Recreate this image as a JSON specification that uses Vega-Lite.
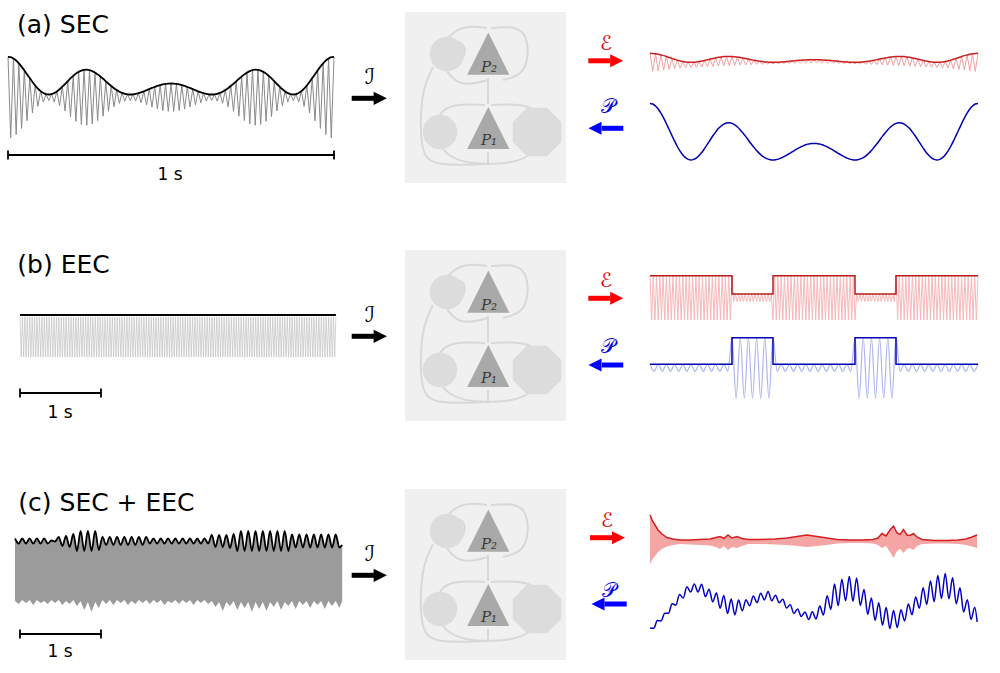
{
"$schema":"https://vega.github.io/schema/vega-lite/v6.json",
"width":1000,"height":673,"padding":0,
"autosize":{"type":"fit","contains":"padding"},
"background":"#ffffff",
"config":{"view":{"stroke":null},"axis":{"disable":true},"legend":{"disable":true},"text":{"font":"DejaVu Sans"}},
"data":{"values":[{}]},
"datasets":{
"rowA":[{"t":0,"a":40.7,"s":40.7,"e":9,"o":9,"p":56.6},{"t":0.0083,"a":40.3,"s":-40.3,"e":8.9,"o":-9.1,"p":56},{"t":0.0167,"a":39,"s":39,"e":8.6,"o":8.6,"p":54},{"t":0.025,"a":37,"s":-37,"e":8.1,"o":-8.4,"p":51},{"t":0.0333,"a":34.2,"s":34.2,"e":7.4,"o":7.4,"p":46.8},{"t":0.0417,"a":30.9,"s":-30.9,"e":6.7,"o":-7.8,"p":41.9},{"t":0.05,"a":27.2,"s":27.2,"e":5.8,"o":5.8,"p":36.3},{"t":0.0583,"a":23.3,"s":-23.3,"e":4.8,"o":-7.1,"p":30.5},{"t":0.0667,"a":19.4,"s":19.4,"e":3.9,"o":3.9,"p":24.6},{"t":0.075,"a":15.5,"s":-15.5,"e":3,"o":-6.4,"p":18.8},{"t":0.0833,"a":12,"s":12,"e":2.1,"o":2.1,"p":13.5},{"t":0.0917,"a":8.9,"s":-8.9,"e":1.4,"o":-5.7,"p":8.9},{"t":0.1,"a":6.4,"s":6.4,"e":0.8,"o":0.8,"p":5.1},{"t":0.1083,"a":4.5,"s":-4.5,"e":0.4,"o":-5.4,"p":2.3},{"t":0.1167,"a":3.4,"s":3.4,"e":0.1,"o":0.1,"p":0.6},{"t":0.125,"a":3,"s":-3,"e":0,"o":-5.1,"p":0},{"t":0.1333,"a":3.4,"s":3.4,"e":0.1,"o":0.1,"p":0.6},{"t":0.1417,"a":4.4,"s":-4.4,"e":0.3,"o":-4.9,"p":2.1},{"t":0.15,"a":6.1,"s":6.1,"e":0.7,"o":0.7,"p":4.7},{"t":0.1583,"a":8.2,"s":-8.2,"e":1.2,"o":-4.6,"p":7.8},{"t":0.1667,"a":10.8,"s":10.8,"e":1.9,"o":1.9,"p":11.7},{"t":0.175,"a":13.5,"s":-13.5,"e":2.5,"o":-4.4,"p":15.8},{"t":0.1833,"a":16.3,"s":16.3,"e":3.2,"o":3.2,"p":20},{"t":0.1917,"a":19.1,"s":-19.1,"e":3.8,"o":-4.1,"p":24.2},{"t":0.2,"a":21.6,"s":21.6,"e":4.4,"o":4.4,"p":27.9},{"t":0.2083,"a":23.9,"s":-23.9,"e":5,"o":-3.9,"p":31.4},{"t":0.2167,"a":25.6,"s":25.6,"e":5.4,"o":5.4,"p":33.9},{"t":0.225,"a":26.9,"s":-26.9,"e":5.7,"o":-3.6,"p":35.9},{"t":0.2333,"a":27.6,"s":27.6,"e":5.9,"o":5.9,"p":36.9},{"t":0.2417,"a":27.8,"s":-27.8,"e":5.9,"o":-3.4,"p":37.2},{"t":0.25,"a":27.4,"s":27.4,"e":5.8,"o":5.8,"p":36.6},{"t":0.2583,"a":26.4,"s":-26.4,"e":5.6,"o":-3.1,"p":35.1},{"t":0.2667,"a":25,"s":25,"e":5.3,"o":5.3,"p":33},{"t":0.275,"a":23.1,"s":-23.1,"e":4.8,"o":-2.9,"p":30.2},{"t":0.2833,"a":21,"s":21,"e":4.3,"o":4.3,"p":27},{"t":0.2917,"a":18.7,"s":-18.7,"e":3.7,"o":-2.6,"p":23.6},{"t":0.3,"a":16.2,"s":16.2,"e":3.2,"o":3.2,"p":19.8},{"t":0.3083,"a":13.8,"s":-13.8,"e":2.6,"o":-2.4,"p":16.2},{"t":0.3167,"a":11.5,"s":11.5,"e":2,"o":2,"p":12.8},{"t":0.325,"a":9.3,"s":-9.3,"e":1.5,"o":-2.2,"p":9.5},{"t":0.3333,"a":7.4,"s":7.4,"e":1.1,"o":1.1,"p":6.6},{"t":0.3417,"a":5.8,"s":-5.8,"e":0.7,"o":-2,"p":4.2},{"t":0.35,"a":4.6,"s":4.6,"e":0.4,"o":0.4,"p":2.4},{"t":0.3583,"a":3.7,"s":-3.7,"e":0.2,"o":-1.7,"p":1.1},{"t":0.3667,"a":3.2,"s":3.2,"e":0,"o":0,"p":0.3},{"t":0.375,"a":3,"s":-3,"e":0,"o":-1.5,"p":0},{"t":0.3833,"a":3.2,"s":3.2,"e":0,"o":0,"p":0.3},{"t":0.3917,"a":3.6,"s":-3.6,"e":0.1,"o":-1.3,"p":0.9},{"t":0.4,"a":4.3,"s":4.3,"e":0.3,"o":0.3,"p":2},{"t":0.4083,"a":5.2,"s":-5.2,"e":0.5,"o":-1.2,"p":3.3},{"t":0.4167,"a":6.2,"s":6.2,"e":0.8,"o":0.8,"p":4.8},{"t":0.425,"a":7.3,"s":-7.3,"e":1,"o":-1.1,"p":6.5},{"t":0.4333,"a":8.4,"s":8.4,"e":1.3,"o":1.3,"p":8.1},{"t":0.4417,"a":9.6,"s":-9.6,"e":1.6,"o":-1,"p":9.9},{"t":0.45,"a":10.6,"s":10.6,"e":1.8,"o":1.8,"p":11.4},{"t":0.4583,"a":11.6,"s":-11.6,"e":2.1,"o":-0.9,"p":12.9},{"t":0.4667,"a":12.4,"s":12.4,"e":2.2,"o":2.2,"p":14.1},{"t":0.475,"a":13.1,"s":-13.1,"e":2.4,"o":-0.9,"p":15.2},{"t":0.4833,"a":13.6,"s":13.6,"e":2.5,"o":2.5,"p":15.9},{"t":0.4917,"a":13.9,"s":-13.9,"e":2.6,"o":-0.8,"p":16.4},{"t":0.5,"a":14,"s":14,"e":2.6,"o":2.6,"p":16.5},{"t":0.5083,"a":13.9,"s":-13.9,"e":2.6,"o":-0.8,"p":16.4},{"t":0.5167,"a":13.6,"s":13.6,"e":2.5,"o":2.5,"p":15.9},{"t":0.525,"a":13.1,"s":-13.1,"e":2.4,"o":-0.9,"p":15.2},{"t":0.5333,"a":12.4,"s":12.4,"e":2.2,"o":2.2,"p":14.1},{"t":0.5417,"a":11.6,"s":-11.6,"e":2.1,"o":-0.9,"p":12.9},{"t":0.55,"a":10.6,"s":10.6,"e":1.8,"o":1.8,"p":11.4},{"t":0.5583,"a":9.6,"s":-9.6,"e":1.6,"o":-1,"p":9.9},{"t":0.5667,"a":8.4,"s":8.4,"e":1.3,"o":1.3,"p":8.1},{"t":0.575,"a":7.3,"s":-7.3,"e":1,"o":-1.1,"p":6.5},{"t":0.5833,"a":6.2,"s":6.2,"e":0.8,"o":0.8,"p":4.8},{"t":0.5917,"a":5.2,"s":-5.2,"e":0.5,"o":-1.2,"p":3.3},{"t":0.6,"a":4.3,"s":4.3,"e":0.3,"o":0.3,"p":2},{"t":0.6083,"a":3.6,"s":-3.6,"e":0.1,"o":-1.3,"p":0.9},{"t":0.6167,"a":3.2,"s":3.2,"e":0,"o":0,"p":0.3},{"t":0.625,"a":3,"s":-3,"e":0,"o":-1.5,"p":0},{"t":0.6333,"a":3.2,"s":3.2,"e":0,"o":0,"p":0.3},{"t":0.6417,"a":3.7,"s":-3.7,"e":0.2,"o":-1.7,"p":1.1},{"t":0.65,"a":4.6,"s":4.6,"e":0.4,"o":0.4,"p":2.4},{"t":0.6583,"a":5.8,"s":-5.8,"e":0.7,"o":-2,"p":4.2},{"t":0.6667,"a":7.4,"s":7.4,"e":1.1,"o":1.1,"p":6.6},{"t":0.675,"a":9.3,"s":-9.3,"e":1.5,"o":-2.2,"p":9.5},{"t":0.6833,"a":11.5,"s":11.5,"e":2,"o":2,"p":12.8},{"t":0.6917,"a":13.8,"s":-13.8,"e":2.6,"o":-2.4,"p":16.2},{"t":0.7,"a":16.2,"s":16.2,"e":3.2,"o":3.2,"p":19.8},{"t":0.7083,"a":18.7,"s":-18.7,"e":3.7,"o":-2.6,"p":23.6},{"t":0.7167,"a":21,"s":21,"e":4.3,"o":4.3,"p":27},{"t":0.725,"a":23.1,"s":-23.1,"e":4.8,"o":-2.9,"p":30.2},{"t":0.7333,"a":25,"s":25,"e":5.3,"o":5.3,"p":33},{"t":0.7417,"a":26.4,"s":-26.4,"e":5.6,"o":-3.1,"p":35.1},{"t":0.75,"a":27.4,"s":27.4,"e":5.8,"o":5.8,"p":36.6},{"t":0.7583,"a":27.8,"s":-27.8,"e":5.9,"o":-3.4,"p":37.2},{"t":0.7667,"a":27.6,"s":27.6,"e":5.9,"o":5.9,"p":36.9},{"t":0.775,"a":26.9,"s":-26.9,"e":5.7,"o":-3.6,"p":35.9},{"t":0.7833,"a":25.6,"s":25.6,"e":5.4,"o":5.4,"p":33.9},{"t":0.7917,"a":23.9,"s":-23.9,"e":5,"o":-3.9,"p":31.4},{"t":0.8,"a":21.6,"s":21.6,"e":4.4,"o":4.4,"p":27.9},{"t":0.8083,"a":19.1,"s":-19.1,"e":3.8,"o":-4.1,"p":24.2},{"t":0.8167,"a":16.3,"s":16.3,"e":3.2,"o":3.2,"p":20},{"t":0.825,"a":13.5,"s":-13.5,"e":2.5,"o":-4.4,"p":15.8},{"t":0.8333,"a":10.8,"s":10.8,"e":1.9,"o":1.9,"p":11.7},{"t":0.8417,"a":8.2,"s":-8.2,"e":1.2,"o":-4.6,"p":7.8},{"t":0.85,"a":6.1,"s":6.1,"e":0.7,"o":0.7,"p":4.7},{"t":0.8583,"a":4.4,"s":-4.4,"e":0.3,"o":-4.9,"p":2.1},{"t":0.8667,"a":3.4,"s":3.4,"e":0.1,"o":0.1,"p":0.6},{"t":0.875,"a":3,"s":-3,"e":0,"o":-5.1,"p":0},{"t":0.8833,"a":3.4,"s":3.4,"e":0.1,"o":0.1,"p":0.6},{"t":0.8917,"a":4.5,"s":-4.5,"e":0.4,"o":-5.4,"p":2.3},{"t":0.9,"a":6.4,"s":6.4,"e":0.8,"o":0.8,"p":5.1},{"t":0.9083,"a":8.9,"s":-8.9,"e":1.4,"o":-5.7,"p":8.9},{"t":0.9167,"a":12,"s":12,"e":2.1,"o":2.1,"p":13.5},{"t":0.925,"a":15.5,"s":-15.5,"e":3,"o":-6.4,"p":18.8},{"t":0.9333,"a":19.4,"s":19.4,"e":3.9,"o":3.9,"p":24.6},{"t":0.9417,"a":23.3,"s":-23.3,"e":4.8,"o":-7.1,"p":30.5},{"t":0.95,"a":27.2,"s":27.2,"e":5.8,"o":5.8,"p":36.3},{"t":0.9583,"a":30.9,"s":-30.9,"e":6.7,"o":-7.8,"p":41.9},{"t":0.9667,"a":34.2,"s":34.2,"e":7.4,"o":7.4,"p":46.8},{"t":0.975,"a":37,"s":-37,"e":8.1,"o":-8.4,"p":51},{"t":0.9833,"a":39,"s":39,"e":8.6,"o":8.6,"p":54},{"t":0.9917,"a":40.3,"s":-40.3,"e":8.9,"o":-9.1,"p":56},{"t":1,"a":40.7,"s":40.7,"e":9,"o":9,"p":56.6}],
"rowBL":[{"t":0,"v":20},{"t":0.015,"v":-20},{"t":0.03,"v":20},{"t":0.045,"v":-20},{"t":0.06,"v":20},{"t":0.075,"v":-20},{"t":0.09,"v":20},{"t":0.105,"v":-20},{"t":0.12,"v":20},{"t":0.135,"v":-20},{"t":0.15,"v":20},{"t":0.165,"v":-20},{"t":0.18,"v":20},{"t":0.195,"v":-20},{"t":0.21,"v":20},{"t":0.225,"v":-20},{"t":0.24,"v":20},{"t":0.255,"v":-20},{"t":0.27,"v":20},{"t":0.285,"v":-20},{"t":0.3,"v":20},{"t":0.315,"v":-20},{"t":0.33,"v":20},{"t":0.345,"v":-20},{"t":0.36,"v":20},{"t":0.375,"v":-20},{"t":0.39,"v":20},{"t":0.405,"v":-20},{"t":0.42,"v":20},{"t":0.435,"v":-20},{"t":0.45,"v":20},{"t":0.465,"v":-20},{"t":0.48,"v":20},{"t":0.495,"v":-20},{"t":0.51,"v":20},{"t":0.525,"v":-20},{"t":0.54,"v":20},{"t":0.555,"v":-20},{"t":0.57,"v":20},{"t":0.585,"v":-20},{"t":0.6,"v":20},{"t":0.615,"v":-20},{"t":0.63,"v":20},{"t":0.645,"v":-20},{"t":0.66,"v":20},{"t":0.675,"v":-20},{"t":0.69,"v":20},{"t":0.705,"v":-20},{"t":0.72,"v":20},{"t":0.735,"v":-20},{"t":0.75,"v":20},{"t":0.765,"v":-20},{"t":0.78,"v":20},{"t":0.795,"v":-20},{"t":0.81,"v":20},{"t":0.825,"v":-20},{"t":0.84,"v":20},{"t":0.855,"v":-20},{"t":0.87,"v":20},{"t":0.885,"v":-20},{"t":0.9,"v":20},{"t":0.915,"v":-20},{"t":0.93,"v":20},{"t":0.945,"v":-20},{"t":0.96,"v":20},{"t":0.975,"v":-20},{"t":0.99,"v":20},{"t":1.005,"v":-20},{"t":1.02,"v":20},{"t":1.035,"v":-20},{"t":1.05,"v":20},{"t":1.065,"v":-20},{"t":1.08,"v":20},{"t":1.095,"v":-20},{"t":1.11,"v":20},{"t":1.125,"v":-20},{"t":1.14,"v":20},{"t":1.155,"v":-20},{"t":1.17,"v":20},{"t":1.185,"v":-20},{"t":1.2,"v":20},{"t":1.215,"v":-20},{"t":1.23,"v":20},{"t":1.245,"v":-20},{"t":1.26,"v":20},{"t":1.275,"v":-20},{"t":1.29,"v":20},{"t":1.305,"v":-20},{"t":1.32,"v":20},{"t":1.335,"v":-20},{"t":1.35,"v":20},{"t":1.365,"v":-20},{"t":1.38,"v":20},{"t":1.395,"v":-20},{"t":1.41,"v":20},{"t":1.425,"v":-20},{"t":1.44,"v":20},{"t":1.455,"v":-20},{"t":1.47,"v":20},{"t":1.485,"v":-20},{"t":1.5,"v":20},{"t":1.515,"v":-20},{"t":1.53,"v":20},{"t":1.545,"v":-20},{"t":1.56,"v":20},{"t":1.575,"v":-20},{"t":1.59,"v":20},{"t":1.605,"v":-20},{"t":1.62,"v":20},{"t":1.635,"v":-20},{"t":1.65,"v":20},{"t":1.665,"v":-20},{"t":1.68,"v":20},{"t":1.695,"v":-20},{"t":1.71,"v":20},{"t":1.725,"v":-20},{"t":1.74,"v":20},{"t":1.755,"v":-20},{"t":1.77,"v":20},{"t":1.785,"v":-20},{"t":1.8,"v":20},{"t":1.815,"v":-20},{"t":1.83,"v":20},{"t":1.845,"v":-20},{"t":1.86,"v":20},{"t":1.875,"v":-20},{"t":1.89,"v":20},{"t":1.905,"v":-20},{"t":1.92,"v":20},{"t":1.935,"v":-20},{"t":1.95,"v":20},{"t":1.965,"v":-20},{"t":1.98,"v":20},{"t":1.995,"v":-20},{"t":2.01,"v":20},{"t":2.025,"v":-20},{"t":2.04,"v":20},{"t":2.055,"v":-20},{"t":2.07,"v":20},{"t":2.085,"v":-20},{"t":2.1,"v":20},{"t":2.115,"v":-20},{"t":2.13,"v":20},{"t":2.145,"v":-20},{"t":2.16,"v":20},{"t":2.175,"v":-20},{"t":2.19,"v":20},{"t":2.205,"v":-20},{"t":2.22,"v":20},{"t":2.235,"v":-20},{"t":2.25,"v":20},{"t":2.265,"v":-20},{"t":2.28,"v":20},{"t":2.295,"v":-20},{"t":2.31,"v":20},{"t":2.325,"v":-20},{"t":2.34,"v":20},{"t":2.355,"v":-20},{"t":2.37,"v":20},{"t":2.385,"v":-20},{"t":2.4,"v":20},{"t":2.415,"v":-20},{"t":2.43,"v":20},{"t":2.445,"v":-20},{"t":2.46,"v":20},{"t":2.475,"v":-20},{"t":2.49,"v":20},{"t":2.505,"v":-20},{"t":2.52,"v":20},{"t":2.535,"v":-20},{"t":2.55,"v":20},{"t":2.565,"v":-20},{"t":2.58,"v":20},{"t":2.595,"v":-20},{"t":2.61,"v":20},{"t":2.625,"v":-20},{"t":2.64,"v":20},{"t":2.655,"v":-20},{"t":2.67,"v":20},{"t":2.685,"v":-20},{"t":2.7,"v":20},{"t":2.715,"v":-20},{"t":2.73,"v":20},{"t":2.745,"v":-20},{"t":2.76,"v":20},{"t":2.775,"v":-20},{"t":2.79,"v":20},{"t":2.805,"v":-20},{"t":2.82,"v":20},{"t":2.835,"v":-20},{"t":2.85,"v":20},{"t":2.865,"v":-20},{"t":2.88,"v":20},{"t":2.895,"v":-20},{"t":2.91,"v":20},{"t":2.925,"v":-20},{"t":2.94,"v":20},{"t":2.955,"v":-20},{"t":2.97,"v":20},{"t":2.985,"v":-20},{"t":3,"v":20},{"t":3.015,"v":-20},{"t":3.03,"v":20},{"t":3.045,"v":-20},{"t":3.06,"v":20},{"t":3.075,"v":-20},{"t":3.09,"v":20},{"t":3.105,"v":-20},{"t":3.12,"v":20},{"t":3.135,"v":-20},{"t":3.15,"v":20},{"t":3.165,"v":-20},{"t":3.18,"v":20},{"t":3.195,"v":-20},{"t":3.21,"v":20},{"t":3.225,"v":-20},{"t":3.24,"v":20},{"t":3.255,"v":-20},{"t":3.27,"v":20},{"t":3.285,"v":-20},{"t":3.3,"v":20},{"t":3.315,"v":-20},{"t":3.33,"v":20},{"t":3.345,"v":-20},{"t":3.36,"v":20},{"t":3.375,"v":-20},{"t":3.39,"v":20},{"t":3.405,"v":-20},{"t":3.42,"v":20},{"t":3.435,"v":-20},{"t":3.45,"v":20},{"t":3.465,"v":-20},{"t":3.48,"v":20},{"t":3.495,"v":-20},{"t":3.51,"v":20},{"t":3.525,"v":-20},{"t":3.54,"v":20},{"t":3.555,"v":-20},{"t":3.57,"v":20},{"t":3.585,"v":-20},{"t":3.6,"v":20},{"t":3.615,"v":-20},{"t":3.63,"v":20},{"t":3.645,"v":-20},{"t":3.66,"v":20},{"t":3.675,"v":-20},{"t":3.69,"v":20},{"t":3.705,"v":-20},{"t":3.72,"v":20},{"t":3.735,"v":-20},{"t":3.75,"v":20},{"t":3.765,"v":-20},{"t":3.78,"v":20},{"t":3.795,"v":-20},{"t":3.81,"v":20},{"t":3.825,"v":-20},{"t":3.84,"v":20},{"t":3.855,"v":-20},{"t":3.87,"v":20},{"t":3.885,"v":-20},{"t":3.9,"v":20}],
"rowBE":[{"t":0,"v":46.3},{"t":0.02,"v":2},{"t":0.04,"v":46.3},{"t":0.06,"v":2},{"t":0.08,"v":46.3},{"t":0.1,"v":2},{"t":0.12,"v":46.3},{"t":0.14,"v":2},{"t":0.16,"v":46.3},{"t":0.18,"v":2},{"t":0.2,"v":46.3},{"t":0.22,"v":2},{"t":0.24,"v":46.3},{"t":0.26,"v":2},{"t":0.28,"v":46.3},{"t":0.3,"v":2},{"t":0.32,"v":46.3},{"t":0.34,"v":2},{"t":0.36,"v":46.3},{"t":0.38,"v":2},{"t":0.4,"v":46.3},{"t":0.42,"v":2},{"t":0.44,"v":46.3},{"t":0.46,"v":2},{"t":0.48,"v":46.3},{"t":0.5,"v":2},{"t":0.52,"v":46.3},{"t":0.54,"v":2},{"t":0.56,"v":46.3},{"t":0.58,"v":2},{"t":0.6,"v":46.3},{"t":0.62,"v":2},{"t":0.64,"v":46.3},{"t":0.66,"v":2},{"t":0.68,"v":46.3},{"t":0.7,"v":2},{"t":0.72,"v":46.3},{"t":0.74,"v":2},{"t":0.76,"v":46.3},{"t":0.78,"v":2},{"t":0.8,"v":46.3},{"t":0.82,"v":2},{"t":0.84,"v":46.3},{"t":0.86,"v":2},{"t":0.88,"v":46.3},{"t":0.9,"v":2},{"t":0.92,"v":46.3},{"t":0.94,"v":2},{"t":0.96,"v":46.3},{"t":0.98,"v":2},{"t":1,"v":46.3},{"t":1.02,"v":20.5},{"t":1.04,"v":28},{"t":1.06,"v":20.5},{"t":1.08,"v":28},{"t":1.1,"v":20.5},{"t":1.12,"v":28},{"t":1.14,"v":20.5},{"t":1.16,"v":28},{"t":1.18,"v":20.5},{"t":1.2,"v":28},{"t":1.22,"v":20.5},{"t":1.24,"v":28},{"t":1.26,"v":20.5},{"t":1.28,"v":28},{"t":1.3,"v":20.5},{"t":1.32,"v":28},{"t":1.34,"v":20.5},{"t":1.36,"v":28},{"t":1.38,"v":20.5},{"t":1.4,"v":28},{"t":1.42,"v":20.5},{"t":1.44,"v":28},{"t":1.46,"v":20.5},{"t":1.48,"v":28},{"t":1.5,"v":2},{"t":1.52,"v":46.3},{"t":1.54,"v":2},{"t":1.56,"v":46.3},{"t":1.58,"v":2},{"t":1.6,"v":46.3},{"t":1.62,"v":2},{"t":1.64,"v":46.3},{"t":1.66,"v":2},{"t":1.68,"v":46.3},{"t":1.7,"v":2},{"t":1.72,"v":46.3},{"t":1.74,"v":2},{"t":1.76,"v":46.3},{"t":1.78,"v":2},{"t":1.8,"v":46.3},{"t":1.82,"v":2},{"t":1.84,"v":46.3},{"t":1.86,"v":2},{"t":1.88,"v":46.3},{"t":1.9,"v":2},{"t":1.92,"v":46.3},{"t":1.94,"v":2},{"t":1.96,"v":46.3},{"t":1.98,"v":2},{"t":2,"v":46.3},{"t":2.02,"v":2},{"t":2.04,"v":46.3},{"t":2.06,"v":2},{"t":2.08,"v":46.3},{"t":2.1,"v":2},{"t":2.12,"v":46.3},{"t":2.14,"v":2},{"t":2.16,"v":46.3},{"t":2.18,"v":2},{"t":2.2,"v":46.3},{"t":2.22,"v":2},{"t":2.24,"v":46.3},{"t":2.26,"v":2},{"t":2.28,"v":46.3},{"t":2.3,"v":2},{"t":2.32,"v":46.3},{"t":2.34,"v":2},{"t":2.36,"v":46.3},{"t":2.38,"v":2},{"t":2.4,"v":46.3},{"t":2.42,"v":2},{"t":2.44,"v":46.3},{"t":2.46,"v":2},{"t":2.48,"v":46.3},{"t":2.5,"v":2},{"t":2.52,"v":28},{"t":2.54,"v":20.5},{"t":2.56,"v":28},{"t":2.58,"v":20.5},{"t":2.6,"v":28},{"t":2.62,"v":20.5},{"t":2.64,"v":28},{"t":2.66,"v":20.5},{"t":2.68,"v":28},{"t":2.7,"v":20.5},{"t":2.72,"v":28},{"t":2.74,"v":20.5},{"t":2.76,"v":28},{"t":2.78,"v":20.5},{"t":2.8,"v":28},{"t":2.82,"v":20.5},{"t":2.84,"v":28},{"t":2.86,"v":20.5},{"t":2.88,"v":28},{"t":2.9,"v":20.5},{"t":2.92,"v":28},{"t":2.94,"v":20.5},{"t":2.96,"v":28},{"t":2.98,"v":20.5},{"t":3,"v":46.3},{"t":3.02,"v":2},{"t":3.04,"v":46.3},{"t":3.06,"v":2},{"t":3.08,"v":46.3},{"t":3.1,"v":2},{"t":3.12,"v":46.3},{"t":3.14,"v":2},{"t":3.16,"v":46.3},{"t":3.18,"v":2},{"t":3.2,"v":46.3},{"t":3.22,"v":2},{"t":3.24,"v":46.3},{"t":3.26,"v":2},{"t":3.28,"v":46.3},{"t":3.3,"v":2},{"t":3.32,"v":46.3},{"t":3.34,"v":2},{"t":3.36,"v":46.3},{"t":3.38,"v":2},{"t":3.4,"v":46.3},{"t":3.42,"v":2},{"t":3.44,"v":46.3},{"t":3.46,"v":2},{"t":3.48,"v":46.3},{"t":3.5,"v":2},{"t":3.52,"v":46.3},{"t":3.54,"v":2},{"t":3.56,"v":46.3},{"t":3.58,"v":2},{"t":3.6,"v":46.3},{"t":3.62,"v":2},{"t":3.64,"v":46.3},{"t":3.66,"v":2},{"t":3.68,"v":46.3},{"t":3.7,"v":2},{"t":3.72,"v":46.3},{"t":3.74,"v":2},{"t":3.76,"v":46.3},{"t":3.78,"v":2},{"t":3.8,"v":46.3},{"t":3.82,"v":2},{"t":3.84,"v":46.3},{"t":3.86,"v":2},{"t":3.88,"v":46.3},{"t":3.9,"v":2},{"t":3.92,"v":46.3},{"t":3.94,"v":2},{"t":3.96,"v":46.3},{"t":3.98,"v":2},{"t":4,"v":46.3}],
"stepBE":[{"t":0,"v":46.3},{"t":1,"v":28},{"t":1.5,"v":46.3},{"t":2.5,"v":28},{"t":3,"v":46.3},{"t":4,"v":46.3}],
"rowBP":[{"t":0,"v":0},{"t":0.05,"v":-7},{"t":0.1,"v":0},{"t":0.15,"v":-7},{"t":0.2,"v":0},{"t":0.25,"v":-7},{"t":0.3,"v":0},{"t":0.35,"v":-7},{"t":0.4,"v":0},{"t":0.45,"v":-7},{"t":0.5,"v":0},{"t":0.55,"v":-7},{"t":0.6,"v":0},{"t":0.65,"v":-7},{"t":0.7,"v":0},{"t":0.75,"v":-7},{"t":0.8,"v":0},{"t":0.85,"v":-7},{"t":0.9,"v":0},{"t":0.95,"v":-7},{"t":1,"v":26.6},{"t":1.05,"v":-34},{"t":1.1,"v":26.6},{"t":1.15,"v":-34},{"t":1.2,"v":26.6},{"t":1.25,"v":-34},{"t":1.3,"v":26.6},{"t":1.35,"v":-34},{"t":1.4,"v":26.6},{"t":1.45,"v":-34},{"t":1.5,"v":26.6},{"t":1.55,"v":-7},{"t":1.6,"v":0},{"t":1.65,"v":-7},{"t":1.7,"v":0},{"t":1.75,"v":-7},{"t":1.8,"v":0},{"t":1.85,"v":-7},{"t":1.9,"v":0},{"t":1.95,"v":-7},{"t":2,"v":0},{"t":2.05,"v":-7},{"t":2.1,"v":0},{"t":2.15,"v":-7},{"t":2.2,"v":0},{"t":2.25,"v":-7},{"t":2.3,"v":0},{"t":2.35,"v":-7},{"t":2.4,"v":0},{"t":2.45,"v":-7},{"t":2.5,"v":26.6},{"t":2.55,"v":-34},{"t":2.6,"v":26.6},{"t":2.65,"v":-34},{"t":2.7,"v":26.6},{"t":2.75,"v":-34},{"t":2.8,"v":26.6},{"t":2.85,"v":-34},{"t":2.9,"v":26.6},{"t":2.95,"v":-34},{"t":3,"v":26.6},{"t":3.05,"v":-7},{"t":3.1,"v":0},{"t":3.15,"v":-7},{"t":3.2,"v":0},{"t":3.25,"v":-7},{"t":3.3,"v":0},{"t":3.35,"v":-7},{"t":3.4,"v":0},{"t":3.45,"v":-7},{"t":3.5,"v":0},{"t":3.55,"v":-7},{"t":3.6,"v":0},{"t":3.65,"v":-7},{"t":3.7,"v":0},{"t":3.75,"v":-7},{"t":3.8,"v":0},{"t":3.85,"v":-7},{"t":3.9,"v":0},{"t":3.95,"v":-7},{"t":4,"v":0}],
"stepBP":[{"t":0,"v":0},{"t":1,"v":26.6},{"t":1.5,"v":0},{"t":2.5,"v":26.6},{"t":3,"v":0},{"t":4,"v":0}],
"rowCL":[{"t":0,"top":36.5,"bot":-26},{"t":0.045,"top":31.5,"bot":-29},{"t":0.09,"top":36.5,"bot":-25},{"t":0.135,"top":31.5,"bot":-28},{"t":0.18,"top":36.5,"bot":-25},{"t":0.225,"top":31.5,"bot":-30},{"t":0.27,"top":36.5,"bot":-25},{"t":0.315,"top":31.5,"bot":-28},{"t":0.36,"top":36.5,"bot":-26},{"t":0.405,"top":31.5,"bot":-29},{"t":0.45,"top":34.5,"bot":-25},{"t":0.495,"top":33.5,"bot":-28},{"t":0.54,"top":38,"bot":-25},{"t":0.585,"top":29,"bot":-30},{"t":0.63,"top":39,"bot":-26},{"t":0.675,"top":28,"bot":-29},{"t":0.72,"top":41,"bot":-25},{"t":0.765,"top":24,"bot":-31},{"t":0.81,"top":44,"bot":-26},{"t":0.855,"top":24,"bot":-35},{"t":0.9,"top":44,"bot":-27},{"t":0.945,"top":24,"bot":-37},{"t":0.99,"top":44,"bot":-27},{"t":1.035,"top":25,"bot":-33},{"t":1.08,"top":38,"bot":-25},{"t":1.125,"top":30,"bot":-29},{"t":1.17,"top":38,"bot":-25},{"t":1.215,"top":30,"bot":-30},{"t":1.26,"top":38,"bot":-25},{"t":1.305,"top":30,"bot":-28},{"t":1.35,"top":38,"bot":-25},{"t":1.395,"top":30,"bot":-30},{"t":1.44,"top":38,"bot":-26},{"t":1.485,"top":30,"bot":-29},{"t":1.53,"top":38,"bot":-25},{"t":1.575,"top":30,"bot":-28},{"t":1.62,"top":38,"bot":-25},{"t":1.665,"top":31.5,"bot":-29},{"t":1.71,"top":36.5,"bot":-25},{"t":1.755,"top":31.5,"bot":-28},{"t":1.8,"top":36.5,"bot":-25},{"t":1.845,"top":31.5,"bot":-30},{"t":1.89,"top":36.5,"bot":-26},{"t":1.935,"top":31.5,"bot":-28},{"t":1.98,"top":36.5,"bot":-25},{"t":2.025,"top":31.5,"bot":-29},{"t":2.07,"top":36.5,"bot":-25},{"t":2.115,"top":31.5,"bot":-28},{"t":2.16,"top":36.5,"bot":-25},{"t":2.205,"top":31.5,"bot":-30},{"t":2.25,"top":36.5,"bot":-25},{"t":2.295,"top":31.5,"bot":-28},{"t":2.34,"top":36.5,"bot":-25},{"t":2.385,"top":31.5,"bot":-29},{"t":2.43,"top":40,"bot":-26},{"t":2.475,"top":28,"bot":-32},{"t":2.52,"top":40,"bot":-27},{"t":2.565,"top":28,"bot":-36},{"t":2.61,"top":40,"bot":-27},{"t":2.655,"top":27,"bot":-31},{"t":2.7,"top":41,"bot":-26},{"t":2.745,"top":24,"bot":-35},{"t":2.79,"top":44,"bot":-27},{"t":2.835,"top":24,"bot":-33},{"t":2.88,"top":44,"bot":-27},{"t":2.925,"top":24,"bot":-37},{"t":2.97,"top":44,"bot":-27},{"t":3.015,"top":24,"bot":-34},{"t":3.06,"top":44,"bot":-27},{"t":3.105,"top":24,"bot":-36},{"t":3.15,"top":44,"bot":-27},{"t":3.195,"top":24,"bot":-32},{"t":3.24,"top":44,"bot":-26},{"t":3.285,"top":24,"bot":-35},{"t":3.33,"top":44,"bot":-27},{"t":3.375,"top":24,"bot":-31},{"t":3.42,"top":40.5,"bot":-26},{"t":3.465,"top":27.5,"bot":-34},{"t":3.51,"top":40.5,"bot":-26},{"t":3.555,"top":27.5,"bot":-30},{"t":3.6,"top":40.5,"bot":-26},{"t":3.645,"top":27.5,"bot":-33},{"t":3.69,"top":40.5,"bot":-26},{"t":3.735,"top":27.5,"bot":-30},{"t":3.78,"top":40.5,"bot":-26},{"t":3.825,"top":27.5,"bot":-34},{"t":3.87,"top":40.5,"bot":-26},{"t":3.915,"top":27.5,"bot":-31},{"t":3.96,"top":40.5,"bot":-26},{"t":4.005,"top":27.5,"bot":-33},{"t":4.04,"top":30,"bot":-26}],
"rowCE":[{"t":0,"e":26,"l":-23},{"t":0.006,"e":25,"l":-22},{"t":0.024,"e":21,"l":-19},{"t":0.061,"e":16,"l":-15},{"t":0.098,"e":11,"l":-11},{"t":0.146,"e":7,"l":-8},{"t":0.207,"e":3.5,"l":-5.5},{"t":0.28,"e":2,"l":-4},{"t":0.366,"e":1,"l":-3},{"t":0.488,"e":1,"l":-3.5},{"t":0.61,"e":1.5,"l":-4},{"t":0.732,"e":2,"l":-4.5},{"t":0.805,"e":3.5,"l":-6},{"t":0.854,"e":4.5,"l":-8},{"t":0.902,"e":2.5,"l":-5},{"t":0.951,"e":6,"l":-9},{"t":1,"e":3,"l":-6},{"t":1.061,"e":4.5,"l":-7},{"t":1.122,"e":2.5,"l":-5},{"t":1.195,"e":1.5,"l":-3},{"t":1.341,"e":1.5,"l":-3},{"t":1.524,"e":2,"l":-3.5},{"t":1.671,"e":3,"l":-4},{"t":1.793,"e":4.5,"l":-5},{"t":1.915,"e":6,"l":-6},{"t":2.037,"e":4.5,"l":-5},{"t":2.159,"e":3,"l":-4},{"t":2.28,"e":1.5,"l":-2.5},{"t":2.439,"e":1,"l":-2},{"t":2.598,"e":1,"l":-2},{"t":2.72,"e":1.5,"l":-2.5},{"t":2.78,"e":3,"l":-4},{"t":2.829,"e":7.5,"l":-7},{"t":2.878,"e":5,"l":-5},{"t":2.927,"e":11,"l":-11},{"t":2.97,"e":15,"l":-17},{"t":3.012,"e":8,"l":-10},{"t":3.049,"e":6.5,"l":-8},{"t":3.091,"e":11.5,"l":-12},{"t":3.134,"e":6,"l":-8},{"t":3.171,"e":5.5,"l":-7},{"t":3.213,"e":7.5,"l":-9},{"t":3.256,"e":4,"l":-5},{"t":3.317,"e":1.5,"l":-3},{"t":3.476,"e":0.5,"l":-2.5},{"t":3.622,"e":0.5,"l":-2.5},{"t":3.756,"e":1,"l":-3},{"t":3.854,"e":2,"l":-4},{"t":3.927,"e":4,"l":-5.5},{"t":3.988,"e":6,"l":-7}],
"rowCP":[{"t":0,"v":4},{"t":0.045,"v":3.7},{"t":0.09,"v":11.4},{"t":0.135,"v":11.1},{"t":0.18,"v":18.8},{"t":0.225,"v":18.8},{"t":0.27,"v":28.3},{"t":0.315,"v":26.8},{"t":0.36,"v":37.4},{"t":0.405,"v":33.9},{"t":0.45,"v":45.2},{"t":0.495,"v":40},{"t":0.54,"v":48},{"t":0.585,"v":40},{"t":0.63,"v":47.8},{"t":0.675,"v":35.3},{"t":0.72,"v":42.8},{"t":0.765,"v":30.2},{"t":0.81,"v":39},{"t":0.855,"v":23.8},{"t":0.9,"v":36.6},{"t":0.945,"v":18.5},{"t":0.99,"v":33},{"t":1.035,"v":17},{"t":1.08,"v":32},{"t":1.125,"v":21.2},{"t":1.17,"v":32.2},{"t":1.215,"v":26.2},{"t":1.26,"v":36.1},{"t":1.305,"v":29.4},{"t":1.35,"v":38.7},{"t":1.395,"v":32.1},{"t":1.44,"v":40.6},{"t":1.485,"v":31.2},{"t":1.53,"v":36.7},{"t":1.575,"v":29.3},{"t":1.62,"v":32.8},{"t":1.665,"v":24},{"t":1.71,"v":27.2},{"t":1.755,"v":18.6},{"t":1.8,"v":23.1},{"t":1.845,"v":15.6},{"t":1.89,"v":20},{"t":1.935,"v":12.5},{"t":1.98,"v":20.2},{"t":2.025,"v":13},{"t":2.07,"v":25.9},{"t":2.115,"v":17},{"t":2.16,"v":36.3},{"t":2.205,"v":22.6},{"t":2.25,"v":48},{"t":2.295,"v":26.4},{"t":2.34,"v":52.8},{"t":2.385,"v":31.2},{"t":2.43,"v":55.5},{"t":2.475,"v":30.8},{"t":2.52,"v":54},{"t":2.565,"v":26.4},{"t":2.61,"v":42.6},{"t":2.655,"v":17.7},{"t":2.7,"v":34},{"t":2.745,"v":11.6},{"t":2.79,"v":29.2},{"t":2.835,"v":6.8},{"t":2.88,"v":24.4},{"t":2.925,"v":3.4},{"t":2.97,"v":21.6},{"t":3.015,"v":4.4},{"t":3.06,"v":22.2},{"t":3.105,"v":11.1},{"t":3.15,"v":27.9},{"t":3.195,"v":17.3},{"t":3.24,"v":35},{"t":3.285,"v":23.7},{"t":3.33,"v":44.3},{"t":3.375,"v":27.6},{"t":3.42,"v":51},{"t":3.465,"v":30.4},{"t":3.51,"v":56.4},{"t":3.555,"v":33.5},{"t":3.6,"v":58.6},{"t":3.645,"v":33.2},{"t":3.69,"v":54.2},{"t":3.735,"v":28.2},{"t":3.78,"v":44.2},{"t":3.825,"v":20.1},{"t":3.87,"v":32.2},{"t":3.915,"v":12.5},{"t":3.96,"v":24.8},{"t":3.99,"v":10}],
"nodes":[{"kind":"circle","x":42,"y":42},{"kind":"tri","x":83.3,"y":41.7},{"kind":"circle","x":35,"y":120},{"kind":"tri","x":83.3,"y":116},{"kind":"oct","x":132,"y":120}],
"labels":[{"label":"P₂","x":84,"y":60},{"label":"P₁","x":84,"y":133}],
"edges":[{"e":1,"i":0,"x":44,"y":25},{"e":1,"i":1,"x":52,"y":17},{"e":1,"i":2,"x":68,"y":14},{"e":1,"i":3,"x":82,"y":16},{"e":2,"i":0,"x":86,"y":16},{"e":2,"i":1,"x":112,"y":14},{"e":2,"i":2,"x":123,"y":25},{"e":2,"i":3,"x":123,"y":52},{"e":2,"i":4,"x":114,"y":64},{"e":2,"i":5,"x":98,"y":68},{"e":3,"i":0,"x":83,"y":68},{"e":3,"i":1,"x":65,"y":73},{"e":3,"i":2,"x":50,"y":70},{"e":3,"i":3,"x":42,"y":59},{"e":4,"i":0,"x":83,"y":66},{"e":4,"i":1,"x":83,"y":92},{"e":5,"i":0,"x":80,"y":93},{"e":5,"i":1,"x":55,"y":92},{"e":5,"i":2,"x":40,"y":96},{"e":5,"i":3,"x":35,"y":103},{"e":6,"i":0,"x":86,"y":93},{"e":6,"i":1,"x":112,"y":92},{"e":6,"i":2,"x":128,"y":96},{"e":6,"i":3,"x":132,"y":102},{"e":7,"i":0,"x":83,"y":140},{"e":7,"i":1,"x":83,"y":152},{"e":8,"i":0,"x":83,"y":152},{"e":8,"i":1,"x":60,"y":151},{"e":8,"i":2,"x":44,"y":144},{"e":8,"i":3,"x":38,"y":137},{"e":9,"i":0,"x":83,"y":152},{"e":9,"i":1,"x":108,"y":151},{"e":9,"i":2,"x":124,"y":144},{"e":9,"i":3,"x":130,"y":137},{"e":10,"i":0,"x":83,"y":152},{"e":10,"i":1,"x":35,"y":154},{"e":10,"i":2,"x":17,"y":146},{"e":10,"i":3,"x":15,"y":110},{"e":10,"i":4,"x":18,"y":75},{"e":10,"i":5,"x":28,"y":55},{"e":11,"i":0,"x":54,"y":30},{"e":11,"i":1,"x":60,"y":34},{"e":11,"i":2,"x":60,"y":43},{"e":11,"i":3,"x":56,"y":48}]
},
"resolve":{"scale":{"x":"independent","y":"independent"}},
"layer":[
{"layer":[
 {"mark":{"type":"rect","color":"#f0f0f0"},"encoding":{"x":{"datum":0,"scale":{"domain":[0,161],"range":[405,566],"nice":false,"zero":false}},"x2":{"datum":161},"y":{"datum":0,"scale":{"domain":[0,171],"range":[12,183],"nice":false,"zero":false}},"y2":{"datum":171}}},
 {"data":{"name":"edges"},"mark":{"type":"line","interpolate":"basis","stroke":"#d8d8d8","strokeWidth":2},"encoding":{"x":{"field":"x","type":"quantitative","scale":{"domain":[0,161],"range":[405,566],"nice":false,"zero":false}},"y":{"field":"y","type":"quantitative","scale":{"domain":[0,171],"range":[12,183],"nice":false,"zero":false}},"detail":{"field":"e","type":"nominal"},"order":{"field":"i","type":"quantitative"}}},
 {"data":{"name":"nodes"},"mark":{"type":"point","filled":true,"opacity":1},"encoding":{"x":{"field":"x","type":"quantitative","scale":{"domain":[0,161],"range":[405,566],"nice":false,"zero":false}},"y":{"field":"y","type":"quantitative","scale":{"domain":[0,171],"range":[12,183],"nice":false,"zero":false}},"shape":{"field":"kind","type":"nominal","scale":{"domain":["circle","tri","oct"],"range":["circle","M0,-1L1,1L-1,1Z","M-0.41,-1L0.41,-1L1,-0.41L1,0.41L0.41,1L-0.41,1L-1,0.41L-1,-0.41Z"]}},"color":{"field":"kind","type":"nominal","scale":{"domain":["circle","tri","oct"],"range":["#dcdcdc","#a9a9a9","#dcdcdc"]}},"size":{"field":"kind","type":"ordinal","scale":{"domain":["circle","tri","oct"],"range":[1197,2362,1225]}}}},
 {"data":{"name":"labels"},"mark":{"type":"text","font":"DejaVu Serif","fontStyle":"italic","fontSize":15,"color":"#3a3a3a","baseline":"alphabetic"},"encoding":{"x":{"field":"x","type":"quantitative","scale":{"domain":[0,161],"range":[405,566],"nice":false,"zero":false}},"y":{"field":"y","type":"quantitative","scale":{"domain":[0,171],"range":[12,183],"nice":false,"zero":false}},"text":{"field":"label"}}}
]},
{"layer":[
 {"mark":{"type":"rect","color":"#f0f0f0"},"encoding":{"x":{"datum":0,"scale":{"domain":[0,161],"range":[405,566],"nice":false,"zero":false}},"x2":{"datum":161},"y":{"datum":0,"scale":{"domain":[0,171],"range":[250,421],"nice":false,"zero":false}},"y2":{"datum":171}}},
 {"data":{"name":"edges"},"mark":{"type":"line","interpolate":"basis","stroke":"#d8d8d8","strokeWidth":2},"encoding":{"x":{"field":"x","type":"quantitative","scale":{"domain":[0,161],"range":[405,566],"nice":false,"zero":false}},"y":{"field":"y","type":"quantitative","scale":{"domain":[0,171],"range":[250,421],"nice":false,"zero":false}},"detail":{"field":"e","type":"nominal"},"order":{"field":"i","type":"quantitative"}}},
 {"data":{"name":"nodes"},"mark":{"type":"point","filled":true,"opacity":1},"encoding":{"x":{"field":"x","type":"quantitative","scale":{"domain":[0,161],"range":[405,566],"nice":false,"zero":false}},"y":{"field":"y","type":"quantitative","scale":{"domain":[0,171],"range":[250,421],"nice":false,"zero":false}},"shape":{"field":"kind","type":"nominal","scale":{"domain":["circle","tri","oct"],"range":["circle","M0,-1L1,1L-1,1Z","M-0.41,-1L0.41,-1L1,-0.41L1,0.41L0.41,1L-0.41,1L-1,0.41L-1,-0.41Z"]}},"color":{"field":"kind","type":"nominal","scale":{"domain":["circle","tri","oct"],"range":["#dcdcdc","#a9a9a9","#dcdcdc"]}},"size":{"field":"kind","type":"ordinal","scale":{"domain":["circle","tri","oct"],"range":[1197,2362,1225]}}}},
 {"data":{"name":"labels"},"mark":{"type":"text","font":"DejaVu Serif","fontStyle":"italic","fontSize":15,"color":"#3a3a3a","baseline":"alphabetic"},"encoding":{"x":{"field":"x","type":"quantitative","scale":{"domain":[0,161],"range":[405,566],"nice":false,"zero":false}},"y":{"field":"y","type":"quantitative","scale":{"domain":[0,171],"range":[250,421],"nice":false,"zero":false}},"text":{"field":"label"}}}
]},
{"layer":[
 {"mark":{"type":"rect","color":"#f0f0f0"},"encoding":{"x":{"datum":0,"scale":{"domain":[0,161],"range":[405,566],"nice":false,"zero":false}},"x2":{"datum":161},"y":{"datum":0,"scale":{"domain":[0,171],"range":[489,660],"nice":false,"zero":false}},"y2":{"datum":171}}},
 {"data":{"name":"edges"},"mark":{"type":"line","interpolate":"basis","stroke":"#d8d8d8","strokeWidth":2},"encoding":{"x":{"field":"x","type":"quantitative","scale":{"domain":[0,161],"range":[405,566],"nice":false,"zero":false}},"y":{"field":"y","type":"quantitative","scale":{"domain":[0,171],"range":[489,660],"nice":false,"zero":false}},"detail":{"field":"e","type":"nominal"},"order":{"field":"i","type":"quantitative"}}},
 {"data":{"name":"nodes"},"mark":{"type":"point","filled":true,"opacity":1},"encoding":{"x":{"field":"x","type":"quantitative","scale":{"domain":[0,161],"range":[405,566],"nice":false,"zero":false}},"y":{"field":"y","type":"quantitative","scale":{"domain":[0,171],"range":[489,660],"nice":false,"zero":false}},"shape":{"field":"kind","type":"nominal","scale":{"domain":["circle","tri","oct"],"range":["circle","M0,-1L1,1L-1,1Z","M-0.41,-1L0.41,-1L1,-0.41L1,0.41L0.41,1L-0.41,1L-1,0.41L-1,-0.41Z"]}},"color":{"field":"kind","type":"nominal","scale":{"domain":["circle","tri","oct"],"range":["#dcdcdc","#a9a9a9","#dcdcdc"]}},"size":{"field":"kind","type":"ordinal","scale":{"domain":["circle","tri","oct"],"range":[1197,2362,1225]}}}},
 {"data":{"name":"labels"},"mark":{"type":"text","font":"DejaVu Serif","fontStyle":"italic","fontSize":15,"color":"#3a3a3a","baseline":"alphabetic"},"encoding":{"x":{"field":"x","type":"quantitative","scale":{"domain":[0,161],"range":[405,566],"nice":false,"zero":false}},"y":{"field":"y","type":"quantitative","scale":{"domain":[0,171],"range":[489,660],"nice":false,"zero":false}},"text":{"field":"label"}}}
]},
{"layer":[
 {"data":{"name":"rowA"},"mark":{"type":"line","stroke":"#8a8a8a","strokeWidth":1},"encoding":{"x":{"field":"t","type":"quantitative","scale":{"domain":[0,1],"range":[8,334],"nice":false,"zero":false}},"y":{"field":"s","type":"quantitative","scale":{"domain":[-50,50],"range":[147.5,47.5],"nice":false,"zero":false}}}},
 {"data":{"name":"rowA"},"mark":{"type":"line","stroke":"#000000","strokeWidth":1.8,"interpolate":"monotone"},"encoding":{"x":{"field":"t","type":"quantitative","scale":{"domain":[0,1],"range":[8,334],"nice":false,"zero":false}},"y":{"field":"a","type":"quantitative","scale":{"domain":[-50,50],"range":[147.5,47.5],"nice":false,"zero":false}}}},
 {"mark":{"type":"rule","color":"#000000","strokeWidth":1.8},"encoding":{"x":{"datum":0,"scale":{"domain":[0,1],"range":[8,334],"nice":false,"zero":false}},"x2":{"datum":1},"y":{"datum":-57.5,"scale":{"domain":[-50,50],"range":[147.5,47.5],"nice":false,"zero":false}}}},
 {"mark":{"type":"rule","color":"#000000","strokeWidth":1.8},"encoding":{"x":{"datum":0,"scale":{"domain":[0,1],"range":[8,334],"nice":false,"zero":false}},"y":{"datum":-53,"scale":{"domain":[-50,50],"range":[147.5,47.5],"nice":false,"zero":false}},"y2":{"datum":-62}}},
 {"mark":{"type":"rule","color":"#000000","strokeWidth":1.8},"encoding":{"x":{"datum":1,"scale":{"domain":[0,1],"range":[8,334],"nice":false,"zero":false}},"y":{"datum":-53,"scale":{"domain":[-50,50],"range":[147.5,47.5],"nice":false,"zero":false}},"y2":{"datum":-62}}},
 {"mark":{"type":"text","text":"1 s","fontSize":17,"baseline":"alphabetic","color":"#000000"},"encoding":{"x":{"datum":0.497,"scale":{"domain":[0,1],"range":[8,334],"nice":false,"zero":false}},"y":{"datum":-82.5,"scale":{"domain":[-50,50],"range":[147.5,47.5],"nice":false,"zero":false}}}},
 {"mark":{"type":"text","text":"(a) SEC","fontSize":25,"align":"left","baseline":"alphabetic","color":"#000000"},"encoding":{"x":{"datum":0.0276,"scale":{"domain":[0,1],"range":[8,334],"nice":false,"zero":false}},"y":{"datum":64.5,"scale":{"domain":[-50,50],"range":[147.5,47.5],"nice":false,"zero":false}}}},
 {"mark":{"type":"rule","color":"#000000","strokeWidth":5},"encoding":{"x":{"datum":1.0543,"scale":{"domain":[0,1],"range":[8,334],"nice":false,"zero":false}},"x2":{"datum":1.1227},"y":{"datum":-0.8,"scale":{"domain":[-50,50],"range":[147.5,47.5],"nice":false,"zero":false}}}},
 {"mark":{"type":"point","shape":"M1,0L-1,-1L-1,1Z","filled":true,"opacity":1,"size":177,"color":"#000000"},"encoding":{"x":{"datum":1.142,"scale":{"domain":[0,1],"range":[8,334],"nice":false,"zero":false}},"y":{"datum":-0.8,"scale":{"domain":[-50,50],"range":[147.5,47.5],"nice":false,"zero":false}}}},
 {"mark":{"type":"text","text":"ℐ","fontSize":22,"baseline":"alphabetic","color":"#000000"},"encoding":{"x":{"datum":1.1104,"scale":{"domain":[0,1],"range":[8,334],"nice":false,"zero":false}},"y":{"datum":13.5,"scale":{"domain":[-50,50],"range":[147.5,47.5],"nice":false,"zero":false}}}}
]},
{"layer":[
 {"data":{"name":"rowA"},"mark":{"type":"line","stroke":"#f4a0a0","strokeWidth":1},"encoding":{"x":{"field":"t","type":"quantitative","scale":{"domain":[0,1],"range":[650,978],"nice":false,"zero":false}},"y":{"field":"o","type":"quantitative","scale":{"domain":[-10,10],"range":[72.3,52.3],"nice":false,"zero":false}}}},
 {"data":{"name":"rowA"},"mark":{"type":"line","stroke":"#cc2020","strokeWidth":1.5,"interpolate":"monotone"},"encoding":{"x":{"field":"t","type":"quantitative","scale":{"domain":[0,1],"range":[650,978],"nice":false,"zero":false}},"y":{"field":"e","type":"quantitative","scale":{"domain":[-10,10],"range":[72.3,52.3],"nice":false,"zero":false}}}},
 {"mark":{"type":"rule","color":"#ff0000","strokeWidth":5},"encoding":{"x":{"datum":-0.1881,"scale":{"domain":[0,1],"range":[650,978],"nice":false,"zero":false}},"x2":{"datum":-0.1204},"y":{"datum":1.5,"scale":{"domain":[-10,10],"range":[72.3,52.3],"nice":false,"zero":false}}}},
 {"mark":{"type":"point","shape":"M1,0L-1,-1L-1,1Z","filled":true,"opacity":1,"size":170,"color":"#ff0000"},"encoding":{"x":{"datum":-0.1015,"scale":{"domain":[0,1],"range":[650,978],"nice":false,"zero":false}},"y":{"datum":1.5,"scale":{"domain":[-10,10],"range":[72.3,52.3],"nice":false,"zero":false}}}},
 {"mark":{"type":"text","text":"ℰ","fontSize":20,"baseline":"alphabetic","color":"#e00000"},"encoding":{"x":{"datum":-0.1341,"scale":{"domain":[0,1],"range":[650,978],"nice":false,"zero":false}},"y":{"datum":12.3,"scale":{"domain":[-10,10],"range":[72.3,52.3],"nice":false,"zero":false}}}}
]},
{"layer":[
 {"data":{"name":"rowA"},"mark":{"type":"line","stroke":"#0000b0","strokeWidth":1.5,"interpolate":"monotone"},"encoding":{"x":{"field":"t","type":"quantitative","scale":{"domain":[0,1],"range":[650,978],"nice":false,"zero":false}},"y":{"field":"p","type":"quantitative","scale":{"domain":[0,60],"range":[160,100],"nice":false,"zero":false}}}},
 {"mark":{"type":"rule","color":"#0000ff","strokeWidth":5},"encoding":{"x":{"datum":-0.1473,"scale":{"domain":[0,1],"range":[650,978],"nice":false,"zero":false}},"x2":{"datum":-0.0814},"y":{"datum":31.7,"scale":{"domain":[0,60],"range":[160,100],"nice":false,"zero":false}}}},
 {"mark":{"type":"point","shape":"M-1,0L1,-1L1,1Z","filled":true,"opacity":1,"size":170,"color":"#0000ff"},"encoding":{"x":{"datum":-0.1677,"scale":{"domain":[0,1],"range":[650,978],"nice":false,"zero":false}},"y":{"datum":31.7,"scale":{"domain":[0,60],"range":[160,100],"nice":false,"zero":false}}}},
 {"mark":{"type":"text","text":"𝒫","fontSize":20,"baseline":"alphabetic","color":"#0000e0"},"encoding":{"x":{"datum":-0.128,"scale":{"domain":[0,1],"range":[650,978],"nice":false,"zero":false}},"y":{"datum":47,"scale":{"domain":[0,60],"range":[160,100],"nice":false,"zero":false}}}}
]},
{"layer":[
 {"data":{"name":"rowBL"},"mark":{"type":"line","stroke":"#c2c2c2","strokeWidth":0.7},"encoding":{"x":{"field":"t","type":"quantitative","scale":{"domain":[0,3.9],"range":[20,335.9],"nice":false,"zero":false}},"y":{"field":"v","type":"quantitative","scale":{"domain":[-30,30],"range":[367,307],"nice":false,"zero":false}}}},
 {"mark":{"type":"rule","color":"#000000","strokeWidth":1.8},"encoding":{"x":{"datum":0,"scale":{"domain":[0,3.9],"range":[20,335.9],"nice":false,"zero":false}},"x2":{"datum":3.9},"y":{"datum":22,"scale":{"domain":[-30,30],"range":[367,307],"nice":false,"zero":false}}}},
 {"mark":{"type":"rule","color":"#000000","strokeWidth":1.8},"encoding":{"x":{"datum":0,"scale":{"domain":[0,3.9],"range":[20,335.9],"nice":false,"zero":false}},"x2":{"datum":1},"y":{"datum":-56,"scale":{"domain":[-30,30],"range":[367,307],"nice":false,"zero":false}}}},
 {"mark":{"type":"rule","color":"#000000","strokeWidth":1.8},"encoding":{"x":{"datum":0,"scale":{"domain":[0,3.9],"range":[20,335.9],"nice":false,"zero":false}},"y":{"datum":-51.5,"scale":{"domain":[-30,30],"range":[367,307],"nice":false,"zero":false}},"y2":{"datum":-60.5}}},
 {"mark":{"type":"rule","color":"#000000","strokeWidth":1.8},"encoding":{"x":{"datum":1,"scale":{"domain":[0,3.9],"range":[20,335.9],"nice":false,"zero":false}},"y":{"datum":-51.5,"scale":{"domain":[-30,30],"range":[367,307],"nice":false,"zero":false}},"y2":{"datum":-60.5}}},
 {"mark":{"type":"text","text":"1 s","fontSize":17,"baseline":"alphabetic","color":"#000000"},"encoding":{"x":{"datum":0.494,"scale":{"domain":[0,3.9],"range":[20,335.9],"nice":false,"zero":false}},"y":{"datum":-81,"scale":{"domain":[-30,30],"range":[367,307],"nice":false,"zero":false}}}},
 {"mark":{"type":"text","text":"(b) EEC","fontSize":25,"align":"left","baseline":"alphabetic","color":"#000000"},"encoding":{"x":{"datum":-0.033,"scale":{"domain":[0,3.9],"range":[20,335.9],"nice":false,"zero":false}},"y":{"datum":64,"scale":{"domain":[-30,30],"range":[367,307],"nice":false,"zero":false}}}},
 {"mark":{"type":"rule","color":"#000000","strokeWidth":5},"encoding":{"x":{"datum":4.095,"scale":{"domain":[0,3.9],"range":[20,335.9],"nice":false,"zero":false}},"x2":{"datum":4.37},"y":{"datum":0.7,"scale":{"domain":[-30,30],"range":[367,307],"nice":false,"zero":false}}}},
 {"mark":{"type":"point","shape":"M1,0L-1,-1L-1,1Z","filled":true,"opacity":1,"size":177,"color":"#000000"},"encoding":{"x":{"datum":4.448,"scale":{"domain":[0,3.9],"range":[20,335.9],"nice":false,"zero":false}},"y":{"datum":0.7,"scale":{"domain":[-30,30],"range":[367,307],"nice":false,"zero":false}}}},
 {"mark":{"type":"text","text":"ℐ","fontSize":22,"baseline":"alphabetic","color":"#000000"},"encoding":{"x":{"datum":4.321,"scale":{"domain":[0,3.9],"range":[20,335.9],"nice":false,"zero":false}},"y":{"datum":15,"scale":{"domain":[-30,30],"range":[367,307],"nice":false,"zero":false}}}}
]},
{"layer":[
 {"data":{"name":"rowBE"},"mark":{"type":"line","stroke":"#f7b8b8","strokeWidth":1},"encoding":{"x":{"field":"t","type":"quantitative","scale":{"domain":[0,4],"range":[650,978],"nice":false,"zero":false}},"y":{"field":"v","type":"quantitative","scale":{"domain":[0,50],"range":[322,272],"nice":false,"zero":false}}}},
 {"data":{"name":"stepBE"},"mark":{"type":"line","stroke":"#b81c1c","strokeWidth":1.5,"interpolate":"step-after"},"encoding":{"x":{"field":"t","type":"quantitative","scale":{"domain":[0,4],"range":[650,978],"nice":false,"zero":false}},"y":{"field":"v","type":"quantitative","scale":{"domain":[0,50],"range":[322,272],"nice":false,"zero":false}}}},
 {"mark":{"type":"rule","color":"#ff0000","strokeWidth":5},"encoding":{"x":{"datum":-0.752,"scale":{"domain":[0,4],"range":[650,978],"nice":false,"zero":false}},"x2":{"datum":-0.482},"y":{"datum":23.7,"scale":{"domain":[0,50],"range":[322,272],"nice":false,"zero":false}}}},
 {"mark":{"type":"point","shape":"M1,0L-1,-1L-1,1Z","filled":true,"opacity":1,"size":170,"color":"#ff0000"},"encoding":{"x":{"datum":-0.406,"scale":{"domain":[0,4],"range":[650,978],"nice":false,"zero":false}},"y":{"datum":23.7,"scale":{"domain":[0,50],"range":[322,272],"nice":false,"zero":false}}}},
 {"mark":{"type":"text","text":"ℰ","fontSize":20,"baseline":"alphabetic","color":"#e00000"},"encoding":{"x":{"datum":-0.537,"scale":{"domain":[0,4],"range":[650,978],"nice":false,"zero":false}},"y":{"datum":35.3,"scale":{"domain":[0,50],"range":[322,272],"nice":false,"zero":false}}}}
]},
{"layer":[
 {"data":{"name":"rowBP"},"mark":{"type":"line","stroke":"#b0b6f0","strokeWidth":1.2,"interpolate":"monotone"},"encoding":{"x":{"field":"t","type":"quantitative","scale":{"domain":[0,4],"range":[650,978],"nice":false,"zero":false}},"y":{"field":"v","type":"quantitative","scale":{"domain":[-40,30],"range":[404.3,334.3],"nice":false,"zero":false}}}},
 {"data":{"name":"stepBP"},"mark":{"type":"line","stroke":"#0000b0","strokeWidth":1.5,"interpolate":"step-after"},"encoding":{"x":{"field":"t","type":"quantitative","scale":{"domain":[0,4],"range":[650,978],"nice":false,"zero":false}},"y":{"field":"v","type":"quantitative","scale":{"domain":[-40,30],"range":[404.3,334.3],"nice":false,"zero":false}}}},
 {"mark":{"type":"rule","color":"#0000ff","strokeWidth":5},"encoding":{"x":{"datum":-0.589,"scale":{"domain":[0,4],"range":[650,978],"nice":false,"zero":false}},"x2":{"datum":-0.326},"y":{"datum":-0.7,"scale":{"domain":[-40,30],"range":[404.3,334.3],"nice":false,"zero":false}}}},
 {"mark":{"type":"point","shape":"M-1,0L1,-1L1,1Z","filled":true,"opacity":1,"size":170,"color":"#0000ff"},"encoding":{"x":{"datum":-0.671,"scale":{"domain":[0,4],"range":[650,978],"nice":false,"zero":false}},"y":{"datum":-0.7,"scale":{"domain":[-40,30],"range":[404.3,334.3],"nice":false,"zero":false}}}},
 {"mark":{"type":"text","text":"𝒫","fontSize":20,"baseline":"alphabetic","color":"#0000e0"},"encoding":{"x":{"datum":-0.512,"scale":{"domain":[0,4],"range":[650,978],"nice":false,"zero":false}},"y":{"datum":11.3,"scale":{"domain":[-40,30],"range":[404.3,334.3],"nice":false,"zero":false}}}}
]},
{"layer":[
 {"data":{"name":"rowCL"},"mark":{"type":"area","color":"#9b9b9b"},"encoding":{"x":{"field":"t","type":"quantitative","scale":{"domain":[0,4.04],"range":[15,342.2],"nice":false,"zero":false}},"y":{"field":"top","type":"quantitative","scale":{"domain":[-50,50],"range":[625,525],"nice":false,"zero":false}},"y2":{"field":"bot"}}},
 {"data":{"name":"rowCL"},"mark":{"type":"line","stroke":"#000000","strokeWidth":1.8,"interpolate":"monotone"},"encoding":{"x":{"field":"t","type":"quantitative","scale":{"domain":[0,4.04],"range":[15,342.2],"nice":false,"zero":false}},"y":{"field":"top","type":"quantitative","scale":{"domain":[-50,50],"range":[625,525],"nice":false,"zero":false}}}},
 {"mark":{"type":"rule","color":"#000000","strokeWidth":1.8},"encoding":{"x":{"datum":0.0617,"scale":{"domain":[0,4.04],"range":[15,342.2],"nice":false,"zero":false}},"x2":{"datum":1.0617},"y":{"datum":-59,"scale":{"domain":[-50,50],"range":[625,525],"nice":false,"zero":false}}}},
 {"mark":{"type":"rule","color":"#000000","strokeWidth":1.8},"encoding":{"x":{"datum":0.0617,"scale":{"domain":[0,4.04],"range":[15,342.2],"nice":false,"zero":false}},"y":{"datum":-54.5,"scale":{"domain":[-50,50],"range":[625,525],"nice":false,"zero":false}},"y2":{"datum":-63.5}}},
 {"mark":{"type":"rule","color":"#000000","strokeWidth":1.8},"encoding":{"x":{"datum":1.0617,"scale":{"domain":[0,4.04],"range":[15,342.2],"nice":false,"zero":false}},"y":{"datum":-54.5,"scale":{"domain":[-50,50],"range":[625,525],"nice":false,"zero":false}},"y2":{"datum":-63.5}}},
 {"mark":{"type":"text","text":"1 s","fontSize":17,"baseline":"alphabetic","color":"#000000"},"encoding":{"x":{"datum":0.556,"scale":{"domain":[0,4.04],"range":[15,342.2],"nice":false,"zero":false}},"y":{"datum":-81.7,"scale":{"domain":[-50,50],"range":[625,525],"nice":false,"zero":false}}}},
 {"mark":{"type":"text","text":"(c) SEC + EEC","fontSize":25,"align":"left","baseline":"alphabetic","color":"#000000"},"encoding":{"x":{"datum":0.041,"scale":{"domain":[0,4.04],"range":[15,342.2],"nice":false,"zero":false}},"y":{"datum":64,"scale":{"domain":[-50,50],"range":[625,525],"nice":false,"zero":false}}}},
 {"mark":{"type":"rule","color":"#000000","strokeWidth":5},"encoding":{"x":{"datum":4.157,"scale":{"domain":[0,4.04],"range":[15,342.2],"nice":false,"zero":false}},"x2":{"datum":4.432},"y":{"datum":-0.3,"scale":{"domain":[-50,50],"range":[625,525],"nice":false,"zero":false}}}},
 {"mark":{"type":"point","shape":"M1,0L-1,-1L-1,1Z","filled":true,"opacity":1,"size":177,"color":"#000000"},"encoding":{"x":{"datum":4.51,"scale":{"domain":[0,4.04],"range":[15,342.2],"nice":false,"zero":false}},"y":{"datum":-0.3,"scale":{"domain":[-50,50],"range":[625,525],"nice":false,"zero":false}}}},
 {"mark":{"type":"text","text":"ℐ","fontSize":22,"baseline":"alphabetic","color":"#000000"},"encoding":{"x":{"datum":4.383,"scale":{"domain":[0,4.04],"range":[15,342.2],"nice":false,"zero":false}},"y":{"datum":14,"scale":{"domain":[-50,50],"range":[625,525],"nice":false,"zero":false}}}}
]},
{"layer":[
 {"data":{"name":"rowCE"},"mark":{"type":"area","color":"#f6a5a5"},"encoding":{"x":{"field":"t","type":"quantitative","scale":{"domain":[0,4],"range":[650,978],"nice":false,"zero":false}},"y":{"field":"e","type":"quantitative","scale":{"domain":[-30,30],"range":[571,511],"nice":false,"zero":false}},"y2":{"field":"l"}}},
 {"data":{"name":"rowCE"},"mark":{"type":"line","stroke":"#d42020","strokeWidth":1.5},"encoding":{"x":{"field":"t","type":"quantitative","scale":{"domain":[0,4],"range":[650,978],"nice":false,"zero":false}},"y":{"field":"e","type":"quantitative","scale":{"domain":[-30,30],"range":[571,511],"nice":false,"zero":false}}}},
 {"mark":{"type":"rule","color":"#ff0000","strokeWidth":5},"encoding":{"x":{"datum":-0.732,"scale":{"domain":[0,4],"range":[650,978],"nice":false,"zero":false}},"x2":{"datum":-0.463},"y":{"datum":3.3,"scale":{"domain":[-30,30],"range":[571,511],"nice":false,"zero":false}}}},
 {"mark":{"type":"point","shape":"M1,0L-1,-1L-1,1Z","filled":true,"opacity":1,"size":170,"color":"#ff0000"},"encoding":{"x":{"datum":-0.384,"scale":{"domain":[0,4],"range":[650,978],"nice":false,"zero":false}},"y":{"datum":3.3,"scale":{"domain":[-30,30],"range":[571,511],"nice":false,"zero":false}}}},
 {"mark":{"type":"text","text":"ℰ","fontSize":20,"baseline":"alphabetic","color":"#e00000"},"encoding":{"x":{"datum":-0.524,"scale":{"domain":[0,4],"range":[650,978],"nice":false,"zero":false}},"y":{"datum":14,"scale":{"domain":[-30,30],"range":[571,511],"nice":false,"zero":false}}}}
]},
{"layer":[
 {"data":{"name":"rowCP"},"mark":{"type":"line","stroke":"#0000c0","strokeWidth":1.5,"interpolate":"monotone"},"encoding":{"x":{"field":"t","type":"quantitative","scale":{"domain":[0,4],"range":[650,978],"nice":false,"zero":false}},"y":{"field":"v","type":"quantitative","scale":{"domain":[-5,65],"range":[637,567],"nice":false,"zero":false}}}},
 {"mark":{"type":"rule","color":"#0000ff","strokeWidth":5},"encoding":{"x":{"datum":-0.555,"scale":{"domain":[0,4],"range":[650,978],"nice":false,"zero":false}},"x2":{"datum":-0.284},"y":{"datum":28,"scale":{"domain":[-5,65],"range":[637,567],"nice":false,"zero":false}}}},
 {"mark":{"type":"point","shape":"M-1,0L1,-1L1,1Z","filled":true,"opacity":1,"size":170,"color":"#0000ff"},"encoding":{"x":{"datum":-0.634,"scale":{"domain":[0,4],"range":[650,978],"nice":false,"zero":false}},"y":{"datum":28,"scale":{"domain":[-5,65],"range":[637,567],"nice":false,"zero":false}}}},
 {"mark":{"type":"text","text":"𝒫","fontSize":20,"baseline":"alphabetic","color":"#0000e0"},"encoding":{"x":{"datum":-0.5,"scale":{"domain":[0,4],"range":[650,978],"nice":false,"zero":false}},"y":{"datum":35.3,"scale":{"domain":[-5,65],"range":[637,567],"nice":false,"zero":false}}}}
]}
]
}
